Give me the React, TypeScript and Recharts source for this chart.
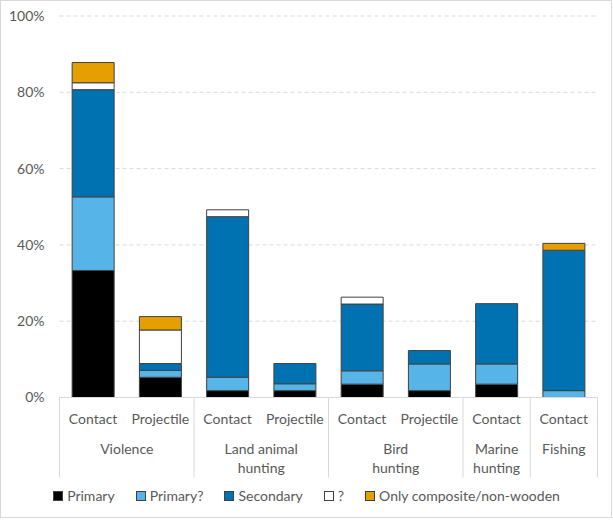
import React from "react";
import {
  BarChart,
  Bar,
  XAxis,
  YAxis,
  CartesianGrid,
  Legend,
} from "recharts";

// sub-categories along the x axis and the group each one belongs to
const subLabels = ["Contact", "Projectile", "Contact", "Projectile", "Contact", "Projectile", "Contact", "Contact"];
const groupIndex = [0, 0, 1, 1, 2, 2, 3, 4];
const groupLabels = [["Violence"], ["Land animal", "hunting"], ["Bird", "hunting"], ["Marine", "hunting"], ["Fishing"]];

// percentages
const primary = [33.3, 5.3, 1.8, 1.8, 3.5, 1.8, 3.5, 0];
const primaryQ = [19.3, 1.8, 3.5, 1.8, 3.5, 7.0, 5.3, 1.8];
const secondary = [28.1, 1.8, 42.1, 5.3, 17.5, 3.5, 15.8, 36.8];
const unknown = [1.8, 8.8, 1.8, 0, 1.8, 0, 0, 0];
const composite = [5.3, 3.5, 0, 0, 0, 0, 0, 1.8];

const yTicks = [0, 20, 40, 60, 80, 100];

const series = [
  { key: "primary", name: "Primary", color: "#000000" },
  { key: "primaryQ", name: "Primary?", color: "#56B4E9" },
  { key: "secondary", name: "Secondary", color: "#0072B2" },
  { key: "unknown", name: "?", color: "#FFFFFF" },
  { key: "composite", name: "Only composite/non-wooden", color: "#E69F00" },
];

const data = subLabels.map((sub, i) => ({
  id: `c${i}`,
  sub,
  primary: primary[i],
  primaryQ: primaryQ[i],
  secondary: secondary[i],
  unknown: unknown[i],
  composite: composite[i],
}));

const W = 613;
const H = 520;
const PLOT_L = 59.5;
const PLOT_R = 597.5;
const PLOT_T = 16;
const PLOT_B = 397.5;
const AXIS_H = 80;
const BAND = (PLOT_R - PLOT_L) / subLabels.length;
const FONT = "Lato, 'Open Sans', sans-serif";
const TEXT = "#595959";
const LINE = "#d9d9d9";

function CategoryTick(props: any) {
  const { x, payload } = props;
  const i = props.index ?? payload.index;
  const g = groupIndex[i];
  const first = i === 0 || groupIndex[i - 1] !== g;
  const size = groupIndex.filter((v) => v === g).length;
  const left = x - BAND / 2;
  return (
    <g>
      <text x={x} y={418} textAnchor="middle" dominantBaseline="central" fill={TEXT} fontSize={14} fontFamily={FONT}>
        {subLabels[i]}
      </text>
      {first && (
        <>
          <line x1={left} x2={left} y1={PLOT_B} y2={PLOT_B + AXIS_H} stroke={LINE} />
          {groupLabels[g].map((l, k) => (
            <text key={k} x={left + (size * BAND) / 2} y={448 + k * 19.5} textAnchor="middle" dominantBaseline="central" fill={TEXT} fontSize={14} fontFamily={FONT}>
              {l}
            </text>
          ))}
        </>
      )}
      {i === subLabels.length - 1 && (
        <line x1={x + BAND / 2} x2={x + BAND / 2} y1={PLOT_B} y2={PLOT_B + AXIS_H} stroke={LINE} />
      )}
    </g>
  );
}

function LegendContent() {
  return (
    <div style={{ display: "flex", justifyContent: "center", gap: 21, fontFamily: FONT, fontSize: 14, color: TEXT }}>
      {series.map((s) => (
        <div key={s.key} style={{ display: "flex", alignItems: "center", gap: 4 }}>
          <span style={{ width: 8, height: 8, background: s.color, border: "1px solid #404040", display: "inline-block" }} />
          <span>{s.name}</span>
        </div>
      ))}
    </div>
  );
}

export default function App() {
  return (
    <div style={{ position: "absolute", left: 0, top: 0, width: W, height: H }}>
      <div style={{ position: "absolute", left: 0, top: 0, width: 612, height: 518, border: `1px solid ${LINE}`, boxSizing: "border-box" }} />
      <BarChart
        width={W}
        height={H}
        data={data}
        barCategoryGap="18.8%"
        margin={{ top: PLOT_T, right: W - PLOT_R, left: 0, bottom: H - PLOT_B - AXIS_H }}
      >
        <CartesianGrid vertical={false} stroke={LINE} strokeDasharray="4 3" />
        <XAxis
          dataKey="id"
          height={AXIS_H}
          axisLine={{ stroke: LINE }}
          tickLine={false}
          interval={0}
          tick={<CategoryTick />}
        />
        <YAxis
          width={PLOT_L}
          domain={[0, 100]}
          ticks={yTicks}
          axisLine={false}
          tickLine={false}
          tickSize={0}
          tickMargin={15}
          tickFormatter={(v) => `${v}%`}
          tick={{ fill: TEXT, fontSize: 14, fontFamily: FONT }}
        />
        <Legend
          layout="horizontal"
          verticalAlign="middle"
          align="center"
          content={<LegendContent />}
          wrapperStyle={{ top: 487, left: 0, width: W }}
        />
        {series.map((s) => (
          <Bar
            key={s.key}
            dataKey={s.key}
            name={s.name}
            stackId="a"
            fill={s.color}
            stroke="#404040"
            strokeWidth={1}
            isAnimationActive={false}
          />
        ))}
      </BarChart>
    </div>
  );
}
